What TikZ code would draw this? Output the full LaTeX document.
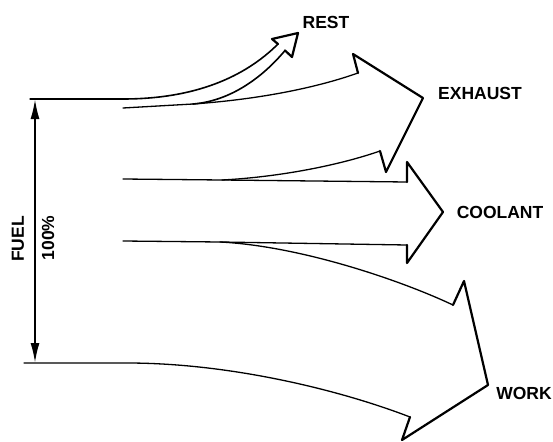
\documentclass[tikz,border=0pt]{standalone}
\usepackage{fontspec}
\setmainfont{Liberation Sans}
\usetikzlibrary{arrows.meta}
\begin{document}
\begin{tikzpicture}[x=1pt,y=-1pt,
  shaft/.style={line width=1.3pt,line cap=round},
  restshaft/.style={line width=1.6pt,line cap=round},
  head/.style={line width=2.2pt,line join=round,line cap=round},
  lbl/.style={font=\fontsize{17.5}{20}\selectfont\bfseries,inner sep=0pt}]
\useasboundingbox (0,0) rectangle (553,441);
% key coordinates
\coordinate (fueltop) at (35,99);
\coordinate (fuelbot) at (35,363);
\coordinate (topL) at (30,99);
\coordinate (topM) at (123,99);
\coordinate (botL) at (24,363);
\coordinate (botM) at (127,363);
\coordinate (l1) at (123,108);
\coordinate (s1) at (193,104);
\coordinate (l2) at (123,179);
\coordinate (s2) at (222,180);
\coordinate (l3) at (123,241);
\coordinate (s3) at (220,242);
% REST
\coordinate (rO) at (278,44);
\coordinate (rI) at (285,50.5);
\draw[shaft] (topL) -- (topM);
\draw[restshaft] (topM) .. controls (195,99) and (245,77) .. (rO);
\draw[shaft] (l1) -- (s1);
\draw[restshaft] (s1) .. controls (230,101) and (262,78) .. (rI);
\draw[head] (rO) -- (272,39) -- (298,33) -- (292,57) -- (rI);
% EXHAUST
\coordinate (eO) at (358,73);
\coordinate (eI) at (380,151);
\draw[shaft] (s1) .. controls (250,100) and (310,90) .. (eO);
\draw[shaft] (l2) -- (s2) .. controls (280,177) and (340,165) .. (eI);
\draw[head] (eO) -- (353,54) -- (423,98) -- (386,172) -- (eI);
% COOLANT
\coordinate (cO) at (407,182);
\coordinate (cI) at (407,245);
\draw[shaft] (s2) -- (cO);
\draw[shaft] (l3) -- (s3) -- (cI);
\draw[head] (cO) -- (407,162) -- (443,212) -- (407,263) -- (cI);
% WORK
\coordinate (wO) at (453,305);
\coordinate (wI) at (410,417);
\draw[shaft] (s3) .. controls (300,246) and (400,280) .. (wO);
\draw[shaft] (botL) -- (botM) .. controls (230,363) and (340,390) .. (wI);
\draw[head] (wO) -- (464,281) -- (488,385) -- (402,440) -- (wI);
% FUEL dimension arrow
\draw[line width=2pt,{Latex[length=20pt,width=9pt]}-{Latex[length=20pt,width=9pt]}] (fueltop) -- (fuelbot);
% labels
\node[lbl,rotate=90] (fuel) at (18,239) {FUEL};
\node[lbl,rotate=90] (pct) at (48,238) {100\%};
\node[lbl] (rest) at (326,22) {REST};
\node[lbl] (exh) at (480,93) {EXHAUST};
\node[lbl] (cool) at (500,212) {COOLANT};
\node[lbl] (work) at (524,393) {WORK};
\end{tikzpicture}
\end{document}
